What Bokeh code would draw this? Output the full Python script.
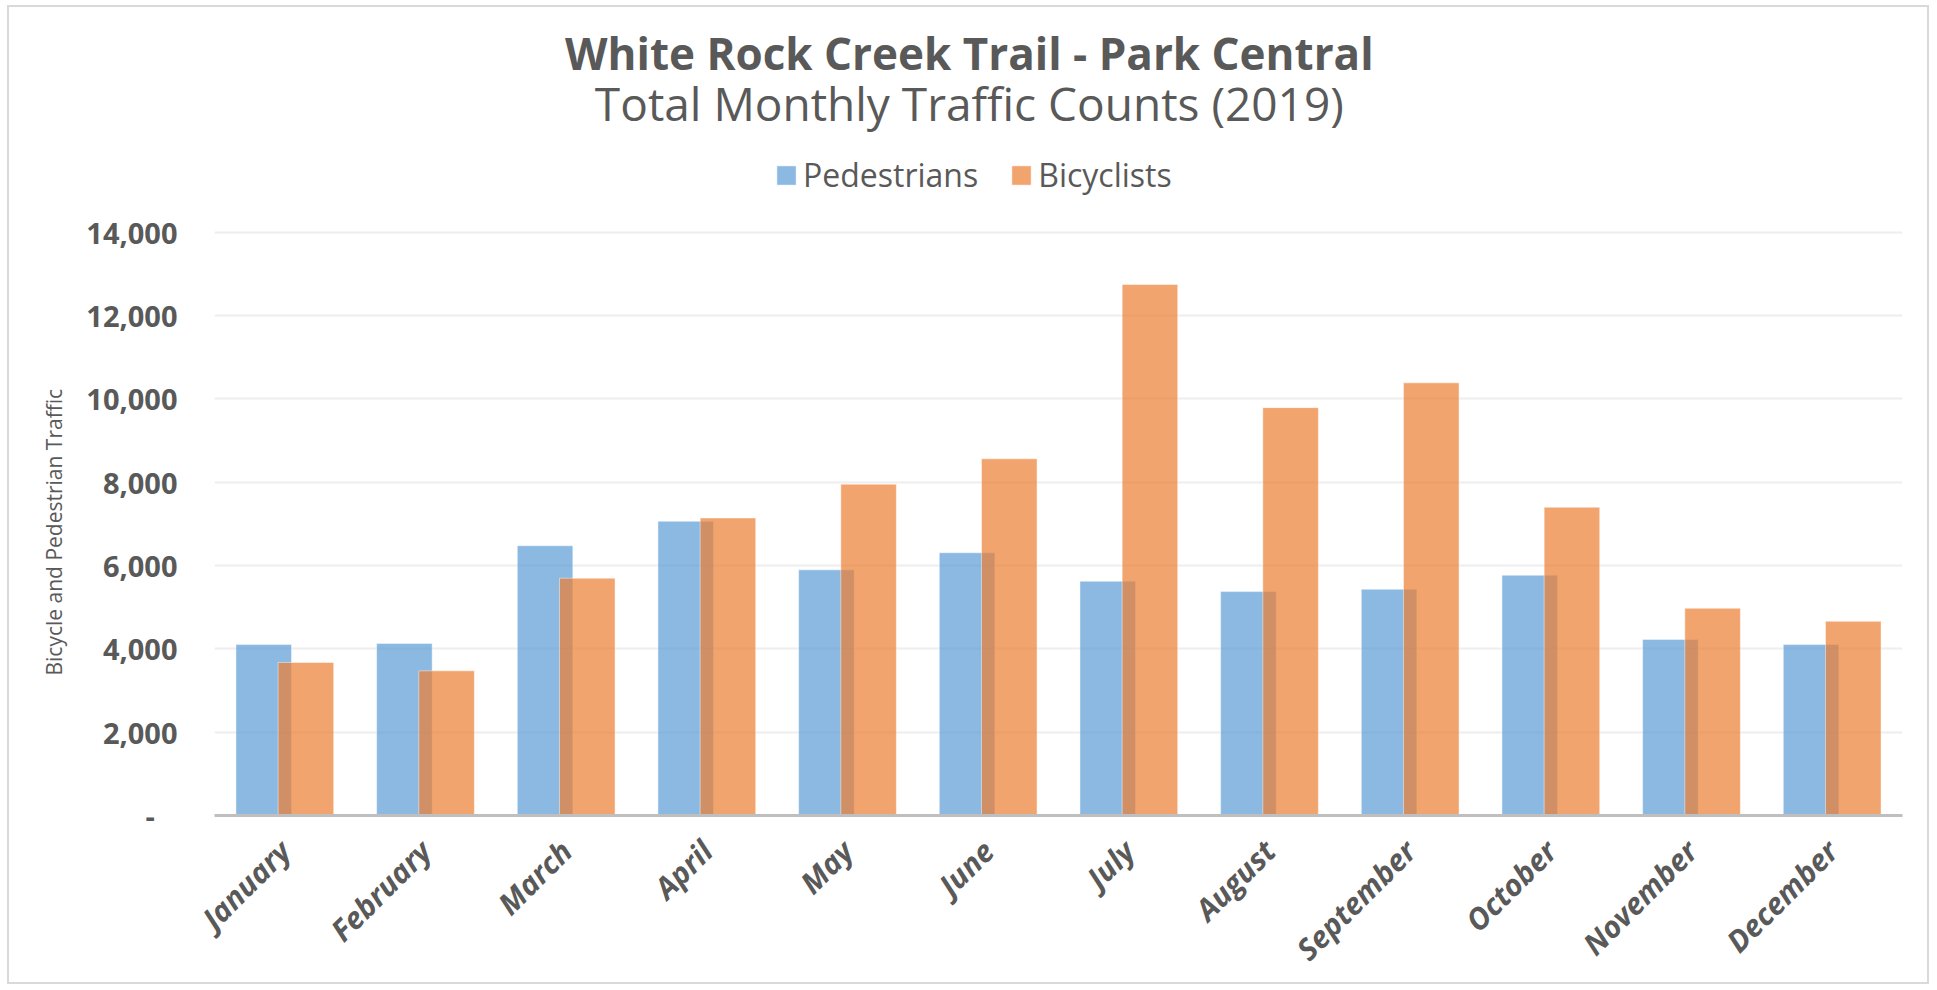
import math
from bokeh.plotting import figure
from bokeh.models import (ColumnDataSource, FactorRange, Range1d, FixedTicker,
                          Legend, LegendItem, Label, Title)
from bokeh.transform import dodge
from bokeh.embed import file_html
from bokeh.resources import INLINE

# ---- data ----
months = ["January", "February", "March", "April", "May", "June", "July",
          "August", "September", "October", "November", "December"]
pedestrians = [4105, 4129, 6472, 7059, 5894, 6304, 5622, 5373, 5429, 5766, 4225, 4105]
bicyclists = [3672, 3471, 5694, 7139, 7950, 8559, 12741, 9787, 10382, 7396, 4972, 4659]
y_ticks = [0, 2000, 4000, 6000, 8000, 10000, 12000, 14000]
y_tick_labels = ["-\u00a0\u00a0\u00a0", "2,000", "4,000", "6,000", "8,000",
                 "10,000", "12,000", "14,000"]
series_names = ["Pedestrians", "Bicyclists"]

title_text = "White Rock Creek Trail - Park Central"
subtitle_text = "Total Monthly Traffic Counts (2019)"
y_title = "Bicycle and Pedestrian Traffic"

GRAY = "#595959"
BLUE = "#5B9BD5"
ORANGE = "#ED7D31"

# plot area: 14,000 sits 582 px above the zero line; the frame extends above it
PX_PER_UNIT = 582 / 14000
FRAME_H = 806          # frame top is the chart's top edge
ZERO_PAGE_Y = 816      # page y of the zero line
Y_TOP = FRAME_H / PX_PER_UNIT


def page_y_to_data(py):
    return (ZERO_PAGE_Y - py) / PX_PER_UNIT


source = ColumnDataSource(dict(month=months, ped=pedestrians, bike=bicyclists))

p = figure(x_range=FactorRange(factors=months, range_padding=0),
           y_range=Range1d(0, Y_TOP),
           width=1922, height=979,
           min_border_left=205, min_border_right=29,
           min_border_top=0, min_border_bottom=169,
           output_backend="svg", toolbar_location=None,
           styles={"border": "2px solid #D9D9D9",
                   "margin-left": "7px", "margin-top": "5px"})

r1 = p.vbar(x=dodge("month", -0.15, range=p.x_range), top="ped", width=0.395,
            source=source, fill_color=BLUE, fill_alpha=0.7,
            line_color="white", line_alpha=0.45, line_width=1)
r2 = p.vbar(x=dodge("month", 0.15, range=p.x_range), top="bike", width=0.395,
            source=source, fill_color=ORANGE, fill_alpha=0.7,
            line_color="white", line_alpha=0.45, line_width=1)

p.outline_line_color = None
p.xgrid.grid_line_color = None
p.ygrid.grid_line_color = "#EEEEEE"
p.ygrid.grid_line_width = 2

# y axis
p.yaxis.ticker = FixedTicker(ticks=y_ticks)
p.yaxis.major_label_overrides = {t: l for t, l in zip(y_ticks, y_tick_labels)}
p.yaxis.axis_line_color = None
p.yaxis.major_tick_line_color = None
p.yaxis.minor_tick_line_color = None
p.yaxis.major_tick_out = 0
p.yaxis.major_tick_in = 0
p.yaxis.major_label_standoff = 37
p.yaxis.major_label_text_font = "Open Sans"
p.yaxis.major_label_text_font_style = "bold"
p.yaxis.major_label_text_font_size = "29px"
p.yaxis.major_label_text_color = GRAY

# y axis title, placed along the 0..14,000 plot area
p.add_layout(Title(text=y_title, align="left", offset=140,
                   standoff=32, text_font="Open Sans", text_font_style="normal",
                   text_font_size="21px", text_color=GRAY), "left")

# x axis
p.xaxis.axis_line_color = "#BFBFBF"
p.xaxis.axis_line_width = 3
p.xaxis.major_tick_line_color = None
p.xaxis.minor_tick_line_color = None
p.xaxis.major_tick_out = 0
p.xaxis.major_tick_in = 0
p.xaxis.major_label_orientation = math.pi / 4
p.xaxis.major_label_standoff = 30
p.xaxis.major_label_text_font = "Open Sans"
p.xaxis.major_label_text_font_style = "bold italic"
p.xaxis.major_label_text_font_size = "30px"
p.xaxis.major_label_text_color = GRAY

# titles
p.add_layout(Label(x=5.366, y=page_y_to_data(55), text=title_text, text_align="center",
                   text_baseline="middle", text_font="Open Sans",
                   text_font_style="bold", text_font_size="44px",
                   text_color=GRAY))
p.add_layout(Label(x=5.366, y=page_y_to_data(105), text=subtitle_text, text_align="center",
                   text_baseline="middle", text_font="Open Sans",
                   text_font_style="normal", text_font_size="46px",
                   text_color=GRAY))

# legend
legend = Legend(items=[LegendItem(label=series_names[0], renderers=[r1]),
                       LegendItem(label=series_names[1], renderers=[r2])],
                orientation="horizontal", location=(560, 619),
                glyph_width=24, glyph_height=24, label_standoff=5, spacing=31,
                padding=0, margin=0,
                label_text_font="Open Sans", label_text_font_size="32px",
                label_text_color=GRAY, label_height=32,
                border_line_color=None, background_fill_alpha=0)
p.add_layout(legend, "center")

open("out.html", "w").write(file_html(p, INLINE))
